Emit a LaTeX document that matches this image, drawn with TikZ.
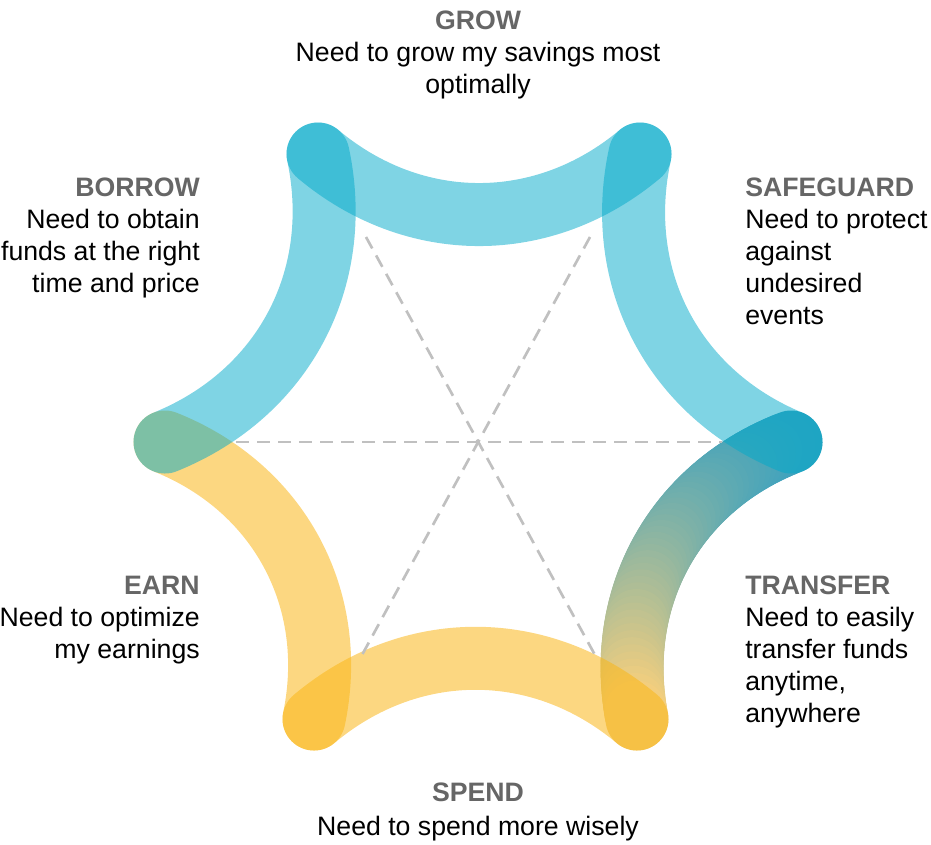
\documentclass[tikz,border=0pt]{standalone}
\usepackage{fontspec}
\setmainfont{Liberation Sans}
\usepackage{tikz}
\usetikzlibrary{positioning}
\definecolor{bandblue}{HTML}{00A9C9}
\definecolor{bandyellow}{RGB}{250,182,22}
\definecolor{gradtop}{RGB}{62,162,190}
\definecolor{gradbot}{RGB}{242,206,126}
\definecolor{headgray}{HTML}{666666}
\definecolor{guidegray}{HTML}{C0C0C0}
\newcommand{\head}[1]{{\bfseries\color{headgray}#1}}
\tikzstyle{band} = [line width=47.25pt, line cap=round, opacity=0.5]
\tikzstyle{blueband} = [band, draw=bandblue]
\tikzstyle{yellowband} = [band, draw=bandyellow, opacity=0.54]
\tikzstyle{gradseg} = [line width=47.25pt, line cap=round]
\tikzstyle{guide} = [draw=guidegray, line width=2pt, dash pattern=on 9.75pt off 6pt]
\tikzstyle{need} = [inner sep=0pt, font=\fontsize{20}{24}\selectfont]

\begin{document}
\begin{tikzpicture}[x=0.75pt, y=0.75pt, bend angle=40]
  \useasboundingbox (0,0) rectangle (931,-844);
  % corners of the star
  \coordinate (TL) at (318,-154);
  \coordinate (TR) at (640,-154);
  \coordinate (R) at (791,-442);
  \coordinate (BR) at (637,-719);
  \coordinate (BL) at (314,-719);
  \coordinate (L) at (165,-442);
  % where the inner edges cross
  \coordinate (cTL) at (366,-237);
  \coordinate (cTR) at (590,-237);
  \coordinate (cR) at (722,-442);
  \coordinate (cBR) at (595,-655);
  \coordinate (cBL) at (362,-655);
  \coordinate (cL) at (236,-442);

  % transfer band, blue fading into yellow
  \foreach \i [evaluate=\i as \t using \i/50] in {0,...,50}
    \path (R) to[bend right] coordinate[pos=\t] (g\i) (BR);
  \foreach \i [evaluate=\i as \j using int(\i+1), evaluate=\i as \m using 100*(1-(\i/49)^1.4)] in {0,...,49}
    \draw[gradseg, draw=gradtop!\m!gradbot] (g\i) -- (g\j);

  \draw[yellowband] (BR) to[bend right] (BL);
  \draw[yellowband] (BL) to[bend right] (L);
  \draw[blueband] (L) to[bend right] (TL);
  \draw[blueband] (TL) to[bend right] (TR);
  \draw[blueband] (TR) to[bend right] (R);

  \draw[guide] (cL) -- (cR);
  \draw[guide] (cTL) -- (cBR);
  \draw[guide] (cTR) -- (cBL);

  % base anchor sits on the last line
  \node[need, anchor=base, align=center] (grow) at (478,-93) {\head{GROW}\\Need to grow my savings most\\optimally};
  \node[need, anchor=base east, align=right] (borrow) at (200,-292) {\head{BORROW}\\Need to obtain\\funds at the right\\time and price};
  \node[need, anchor=base west, align=left] (safeguard) at (745,-324) {\head{SAFEGUARD}\\Need to protect\\against\\undesired\\events};
  \node[need, anchor=base east, align=right] (earn) at (200,-658) {\head{EARN}\\Need to optimize\\my earnings};
  \node[need, anchor=base west, align=left] (transfer) at (745,-722) {\head{TRANSFER}\\Need to easily\\transfer funds\\anytime,\\anywhere};
  \node[need, anchor=base] (spendhead) at (478,-801) {\head{SPEND}};
  \node[need, anchor=base] (spend) at ([yshift=-26pt]spendhead.base) {Need to spend more wisely};
\end{tikzpicture}
\end{document}
